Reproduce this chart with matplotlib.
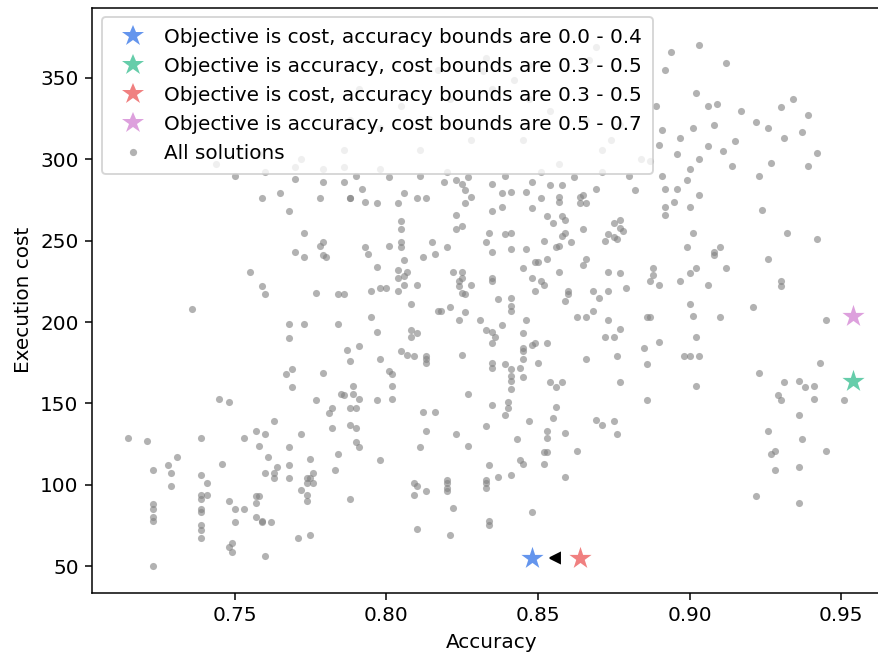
import matplotlib
matplotlib.use("Agg")
import matplotlib.pyplot as plt
from matplotlib.lines import Line2D

# Every evaluated configuration: accuracy vs. execution cost
acc_solutions = [
    # low-accuracy cluster
    0.759, 0.765, 0.779, 0.786, 0.778, 0.788, 0.768, 0.773, 0.779, 0.778,
    0.770, 0.773, 0.779, 0.780, 0.755, 0.759, 0.760, 0.777, 0.784, 0.786,
    0.736, 0.768, 0.773, 0.784, 0.768, 0.787, 0.788, 0.767, 0.769, 0.779,
    0.769,
    0.745, 0.748, 0.777, 0.785, 0.786, 0.782, 0.781, 0.788, 0.763, 0.715,
    0.721, 0.739, 0.753, 0.757, 0.760, 0.772, 0.782, 0.788, 0.758, 0.768,
    0.731, 0.723, 0.728, 0.729, 0.729, 0.739, 0.741, 0.746, 0.761, 0.764,
    0.763, 0.763, 0.760, 0.768, 0.768, 0.775, 0.784, 0.783, 0.776, 0.774,
    0.775, 0.776, 0.774, 0.772, 0.774, 0.774, 0.788, 0.739, 0.741, 0.739,
    0.739, 0.739, 0.739, 0.739, 0.739, 0.723, 0.723, 0.723, 0.723, 0.748,
    0.750, 0.753, 0.750, 0.757, 0.758, 0.757, 0.757, 0.759, 0.759, 0.762,
    0.748, 0.749, 0.749, 0.760, 0.771, 0.775, 0.723,
    # mid-accuracy cluster
    0.792, 0.788, 0.793, 0.797, 0.806, 0.810, 0.813, 0.804, 0.819, 0.823,
    0.825, 0.826, 0.828, 0.826, 0.835, 0.838, 0.841, 0.846, 0.848, 0.851,
    0.854, 0.858, 0.857, 0.857, 0.864, 0.865, 0.864, 0.866, 0.869, 0.835,
    0.838, 0.848, 0.853, 0.855, 0.858, 0.859, 0.865, 0.805, 0.805, 0.823,
    0.823, 0.825, 0.834, 0.839, 0.841, 0.859, 0.858, 0.852, 0.861, 0.857,
    0.856, 0.872, 0.833, 0.835, 0.841, 0.846, 0.793, 0.794, 0.801, 0.805,
    0.805, 0.815, 0.812, 0.816, 0.820, 0.806, 0.797, 0.804, 0.807, 0.806,
    0.804, 0.822, 0.825, 0.824, 0.825, 0.828, 0.824, 0.825, 0.826, 0.835,
    0.835, 0.845, 0.849, 0.850, 0.853, 0.866, 0.865, 0.857, 0.873, 0.848,
    0.851, 0.852, 0.849, 0.795, 0.798, 0.800, 0.804, 0.806, 0.810, 0.808,
    0.837, 0.841, 0.841, 0.841, 0.860, 0.860, 0.859, 0.868, 0.870, 0.873,
    0.795, 0.817, 0.818, 0.821, 0.826, 0.824, 0.831, 0.838, 0.833, 0.835,
    0.836, 0.835, 0.846, 0.863, 0.866, 0.868, 0.873, 0.872, 0.797, 0.808,
    0.808, 0.810, 0.791, 0.845, 0.845, 0.845, 0.845, 0.849, 0.848, 0.853,
    0.850, 0.866, 0.805, 0.807, 0.809, 0.813, 0.813, 0.813, 0.825, 0.798,
    0.801, 0.802, 0.802, 0.789, 0.835, 0.835, 0.839, 0.841, 0.841, 0.841,
    0.844, 0.845, 0.854, 0.858, 0.856, 0.841,
    0.789, 0.791, 0.797, 0.802, 0.790, 0.812, 0.816, 0.827, 0.835, 0.840,
    0.840, 0.839, 0.856, 0.855, 0.869, 0.871, 0.790, 0.790, 0.791, 0.798,
    0.813, 0.811, 0.823, 0.827, 0.833, 0.847, 0.853, 0.853, 0.859, 0.843,
    0.863, 0.852, 0.853, 0.852, 0.844, 0.845, 0.834, 0.837, 0.841, 0.859,
    0.809, 0.810, 0.809, 0.813, 0.820, 0.820, 0.820, 0.820, 0.833, 0.833,
    0.833, 0.822, 0.848, 0.834, 0.834, 0.810, 0.821,
    # high-accuracy cluster
    0.882, 0.892, 0.896, 0.899, 0.903, 0.895, 0.892, 0.892, 0.900, 0.924,
    0.877, 0.875, 0.877, 0.878, 0.873, 0.875, 0.876, 0.901, 0.932, 0.942,
    0.899, 0.908, 0.908, 0.910, 0.926, 0.877, 0.888, 0.888, 0.887, 0.890,
    0.902, 0.900, 0.897, 0.912, 0.906, 0.930, 0.930, 0.879, 0.900, 0.901,
    0.921, 0.910, 0.945, 0.886, 0.887, 0.877, 0.875, 0.902, 0.890, 0.885,
    0.876, 0.886, 0.898, 0.900, 0.903, 0.943, 0.923, 0.931, 0.936, 0.938,
    0.941, 0.877, 0.902,
    0.886, 0.875, 0.876, 0.929, 0.930, 0.941, 0.951, 0.936, 0.926, 0.937,
    0.945, 0.928, 0.927, 0.928, 0.936, 0.922, 0.936,
    # expensive configurations
    0.894, 0.892, 0.912, 0.902, 0.906, 0.909, 0.908, 0.901, 0.897, 0.906,
    0.896, 0.890, 0.903, 0.911, 0.915, 0.922, 0.926, 0.930, 0.931, 0.939,
    0.937, 0.942, 0.927, 0.939, 0.914, 0.923, 0.889, 0.891, 0.887, 0.891,
    0.900, 0.917, 0.934, 0.903,
    0.869, 0.867, 0.833, 0.847, 0.817, 0.832, 0.842, 0.835, 0.854, 0.866,
    0.877, 0.814, 0.798, 0.828, 0.845, 0.871, 0.884, 0.786, 0.772, 0.758,
    0.744, 0.857, 0.874, 0.805, 0.821, 0.791, 0.847, 0.811, 0.788,
    0.750, 0.760, 0.770, 0.779, 0.770, 0.786, 0.790, 0.798, 0.811, 0.820,
    0.839, 0.851, 0.862, 0.871, 0.880, 0.801, 0.827,
]

cost_solutions = [
    276, 279, 286, 286, 276, 276, 268, 255, 249, 247,
    243, 240, 241, 240, 231, 222, 217, 218, 217, 217,
    208, 199, 199, 199, 190, 183, 176, 168, 171, 169,
    160,
    153, 151, 152, 156, 155, 147, 144, 147, 139, 129,
    127, 129, 129, 133, 131, 131, 135, 137, 124, 123,
    117, 109, 112, 107, 99, 106, 101, 113, 117, 111,
    107, 104, 107, 112, 104, 116, 119, 109, 107, 104,
    104, 101, 101, 97, 94, 90, 91, 94, 94, 91,
    85, 83, 75, 72, 67, 88, 85, 80, 78, 90,
    85, 85, 77, 93, 93, 89, 80, 78, 77, 77,
    62, 64, 59, 56, 67, 69, 50,
    282, 276, 274, 273, 279, 276, 276, 273, 286, 287,
    285, 281, 277, 273, 285, 279, 280, 280, 286, 276,
    284, 284, 277, 274, 277, 278, 273, 273, 282, 268,
    271, 270, 265, 261, 265, 263, 257, 262, 257, 266,
    257, 259, 255, 254, 255, 255, 253, 250, 249, 247,
    246, 250, 249, 243, 245, 245, 246, 242, 247, 249,
    246, 249, 240, 242, 246, 238, 234, 232, 231, 228,
    227, 231, 231, 225, 227, 223, 222, 218, 217, 227,
    225, 233, 237, 237, 239, 239, 235, 231, 231, 227,
    225, 223, 219, 219, 221, 221, 219, 223, 223, 211,
    214, 215, 210, 207, 219, 217, 213, 219, 215, 219,
    203, 207, 207, 209, 206, 201, 201, 198, 195, 194,
    191, 187, 201, 203, 203, 207, 201, 191, 194, 195,
    191, 193, 185, 193, 184, 182, 177, 187, 186, 187,
    175, 177, 182, 180, 179, 179, 177, 175, 180, 177,
    170, 168, 161, 161, 175, 172, 174, 171, 167, 164,
    172, 166, 163, 163, 160, 159,
    156, 153, 152, 153, 147, 145, 145, 156, 149, 151,
    147, 143, 148, 141, 140, 137, 135, 126, 123, 115,
    133, 123, 131, 124, 136, 139, 133, 129, 132, 128,
    121, 120, 120, 113, 115, 113, 112, 105, 106, 105,
    101, 99, 94, 96, 103, 101, 98, 96, 103, 101,
    98, 86, 83, 78, 75, 73, 69,
    281, 282, 282, 287, 278, 274, 271, 266, 271, 269,
    263, 261, 258, 256, 254, 252, 251, 255, 255, 251,
    246, 243, 241, 246, 239, 230, 233, 229, 225, 223,
    233, 230, 225, 233, 223, 225, 222, 221, 211, 204,
    209, 203, 201, 203, 203, 196, 191, 191, 188, 184,
    179, 174, 179, 179, 179, 175, 169, 163, 164, 160,
    161, 163, 161,
    152, 139, 131, 155, 152, 153, 152, 143, 133, 128,
    121, 121, 119, 109, 111, 93, 89,
    366, 355, 359, 341, 333, 334, 321, 319, 313, 308,
    303, 309, 300, 305, 311, 323, 319, 332, 313, 327,
    317, 304, 298, 296, 296, 290, 333, 318, 299, 290,
    294, 330, 337, 370,
    369, 361, 362, 358, 355, 354, 349, 343, 330, 324,
    321, 325, 319, 312, 312, 306, 300, 306, 300, 303,
    297, 297, 312, 333, 337, 343, 337, 306, 324,
    290, 292, 295, 294, 288, 295, 290, 294, 290, 292,
    290, 292, 289, 292, 290, 289, 289,
]

# Solutions picked by the optimizer under each objective / constraint setting
best_labels = [
    "Objective is cost, accuracy bounds are 0.0 - 0.4",
    "Objective is accuracy, cost bounds are 0.3 - 0.5",
    "Objective is cost, accuracy bounds are 0.3 - 0.5",
    "Objective is accuracy, cost bounds are 0.5 - 0.7",
]
best_acc = [0.848, 0.954, 0.864, 0.954]
best_cost = [55, 164, 55, 204]
best_colors = ["cornflowerblue", "mediumaquamarine", "lightcoral", "plum"]

# Marker pointing from one cost-optimal pick toward the other
pointer_acc = [0.8556]
pointer_cost = [55]

plt.rcParams["font.size"] = 10.5

DPI = 137
fig = plt.figure(figsize=(878 / DPI, 657 / DPI), dpi=DPI)
ax = fig.add_axes([92 / 878, 64 / 657, 799 / 878, 585.5 / 657])

ax.scatter(acc_solutions, cost_solutions, s=14, color="grey", alpha=0.6,
           linewidths=0, zorder=2)

for a, c, col in zip(best_acc, best_cost, best_colors):
    ax.scatter([a], [c], marker="*", s=150, color=col, linewidths=0, zorder=3)

ax.plot(pointer_acc, pointer_cost, marker="<", markersize=5, color="black",
        linestyle="none", zorder=3)

ax.set_xlim(0.703, 0.9664)
ax.set_ylim(33.5, 393.3)
ax.set_xlabel("Accuracy")
ax.set_ylabel("Execution cost")

handles = [Line2D([], [], marker="*", markersize=12, color=col, linestyle="none",
                  markeredgewidth=0)
           for col in best_colors]
handles.append(Line2D([], [], marker="o", markersize=3.8, color="grey", alpha=0.6,
                      linestyle="none", markeredgewidth=0))
ax.legend(handles, best_labels + ["All solutions"], loc="upper left",
          borderpad=0.55, handletextpad=0.55)

fig.savefig("out.png", dpi=DPI)
